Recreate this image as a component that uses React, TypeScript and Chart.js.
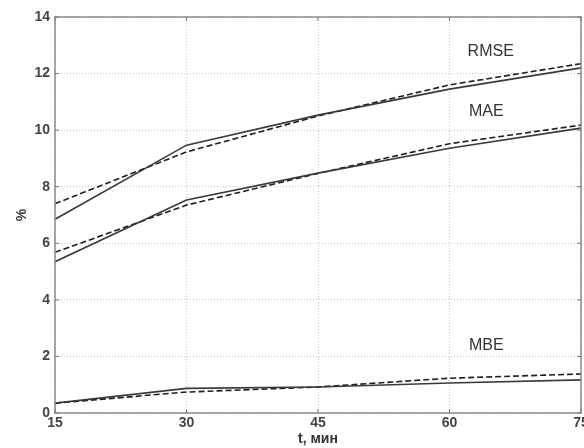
import React, { useEffect, useRef } from "react";
import { Chart, registerables } from "chart.js";

Chart.register(...registerables);

const times = [15, 30, 45, 60, 75];
const rmseSolid = [6.85, 9.47, 10.53, 11.45, 12.2];
const rmseDashed = [7.4, 9.23, 10.5, 11.6, 12.35];
const maeSolid = [5.35, 7.53, 8.48, 9.36, 10.07];
const maeDashed = [5.68, 7.35, 8.47, 9.52, 10.18];
const mbeSolid = [0.35, 0.87, 0.92, 1.06, 1.17];
const mbeDashed = [0.35, 0.74, 0.92, 1.23, 1.38];
const xTicks = [15, 30, 45, 60, 75];
const yTicks = [0, 2, 4, 6, 8, 10, 12, 14];
const curveLabels = ["RMSE", "MAE", "MBE"];
const curveLabelX = [64.7, 64.2, 64.2];
const curveLabelY = [12.76, 10.67, 2.37];

const FONT = "'Liberation Sans', Arial, sans-serif";

export default function App() {
  const ref = useRef<HTMLCanvasElement | null>(null);
  useEffect(() => {
    if (!ref.current) return;
    const mk = (vals: number[], dashed: boolean) => ({
      data: times.map((t, i) => ({ x: t, y: vals[i] })),
      borderColor: dashed ? "#1e1e1e" : "#3a3a3a",
      borderWidth: 1.6,
      borderDash: dashed ? [6, 3] : [],
      pointRadius: 0,
      tension: 0,
      fill: false,
    });
    const boxPlugin = {
      id: "box",
      afterDatasetsDraw(chart: any) {
        const { ctx, chartArea: a, scales } = chart;
        ctx.save();
        ctx.strokeStyle = "#8a8a8a";
        ctx.lineWidth = 1.5;
        ctx.strokeRect(a.left, a.top, a.right - a.left, a.bottom - a.top);
        ctx.lineWidth = 1;
        ctx.strokeStyle = "#777";
        ctx.beginPath();
        xTicks.forEach((t) => {
          const px = scales.x.getPixelForValue(t);
          ctx.moveTo(px, a.bottom);
          ctx.lineTo(px, a.bottom - 4);
          ctx.moveTo(px, a.top);
          ctx.lineTo(px, a.top + 4);
        });
        yTicks.forEach((t) => {
          const py = scales.y.getPixelForValue(t);
          ctx.moveTo(a.left, py);
          ctx.lineTo(a.left + 4, py);
          ctx.moveTo(a.right, py);
          ctx.lineTo(a.right - 4, py);
        });
        ctx.stroke();
        ctx.fillStyle = "#333";
        ctx.font = `16px ${FONT}`;
        ctx.textAlign = "center";
        ctx.textBaseline = "middle";
        curveLabels.forEach((l, i) => {
          ctx.fillText(
            l,
            scales.x.getPixelForValue(curveLabelX[i]),
            scales.y.getPixelForValue(curveLabelY[i])
          );
        });
        ctx.restore();
      },
    };
    const chart = new Chart(ref.current, {
      type: "line",
      data: {
        datasets: [
          mk(rmseSolid, false),
          mk(rmseDashed, true),
          mk(maeSolid, false),
          mk(maeDashed, true),
          mk(mbeSolid, false),
          mk(mbeDashed, true),
        ],
      },
      options: {
        animation: false,
        responsive: false,
        layout: { padding: { top: 17, right: 3, left: 0, bottom: 0 } },
        plugins: { legend: { display: false }, tooltip: { enabled: false } },
        scales: {
          x: {
            type: "linear",
            min: 15,
            max: 75,
            afterBuildTicks: (s: any) => {
              s.ticks = xTicks.map((v) => ({ value: v }));
            },
            afterFit: (s: any) => {
              s.height = 35;
              s.paddingLeft = 0;
              s.paddingRight = 0;
            },
            ticks: {
              color: "#444",
              font: { family: FONT, size: 14, weight: "bold" },
              padding: 2,
              maxRotation: 0,
              autoSkip: false,
            },
            grid: { color: "#c8c8c8", lineWidth: 1, drawTicks: false },
            border: { display: false, dash: [1, 2] },
            title: {
              display: true,
              text: "t, мин",
              color: "#333",
              font: { family: FONT, size: 14, weight: "bold" },
              padding: 0,
            },
          },
          y: {
            min: 0,
            max: 14,
            afterBuildTicks: (s: any) => {
              s.ticks = yTicks.map((v) => ({ value: v }));
            },
            afterFit: (s: any) => {
              s.width = 55;
              s.paddingTop = 0;
              s.paddingBottom = 0;
            },
            ticks: {
              color: "#444",
              font: { family: FONT, size: 14, weight: "bold" },
              padding: 5,
            },
            grid: { color: "#c8c8c8", lineWidth: 1, drawTicks: false },
            border: { display: false, dash: [1, 2] },
            title: {
              display: true,
              text: "%",
              color: "#333",
              font: { family: FONT, size: 14, weight: "bold" },
              padding: { top: 14, bottom: 0 },
            },
          },
        },
      },
      plugins: [boxPlugin],
    } as any);
    return () => chart.destroy();
  }, []);
  return (
    <div style={{ position: "fixed", left: 0, top: 0, width: 584, height: 448 }}>
      <canvas ref={ref} width={584} height={448} />
    </div>
  );
}
